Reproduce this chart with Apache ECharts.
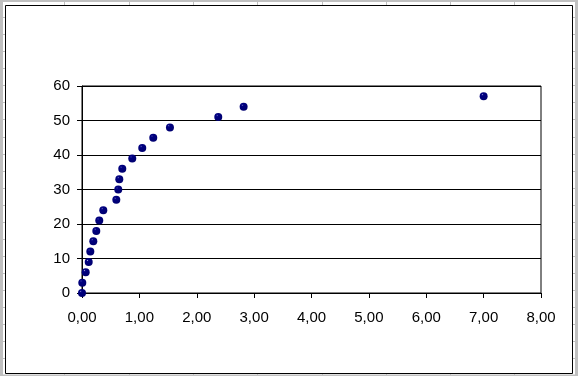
<!DOCTYPE html>
<html>
<head>
<meta charset="utf-8">
<script src="https://cdn.jsdelivr.net/npm/echarts@6/dist/echarts.min.js"></script>
<style>
html,body{margin:0;padding:0;background:#fff;}
#chart{width:578px;height:376px;}
</style>
</head>
<body>
<div id="chart"></div>
<script>
// Data
var xValues = [0, 0.005, 0.064, 0.117, 0.145, 0.197, 0.249, 0.301, 0.371, 0.598, 0.632, 0.650, 0.702, 0.876, 1.05, 1.242, 1.533, 2.375, 2.817, 7.0];
var yValues = [0, 3, 6, 9, 12, 15, 18, 21, 24, 27, 30, 33, 36, 39, 42, 45, 48, 51, 54, 57];
var xTicks = [0, 1, 2, 3, 4, 5, 6, 7, 8];
var yTicks = [0, 10, 20, 30, 40, 50, 60];

var points = xValues.map(function (x, i) { return [x, yValues[i]]; });

function fmtX(v) { return v.toFixed(2).replace('.', ','); }

// spreadsheet cell-grid fragments around the chart object
var gray = '#c0c0c0';
var graphics = [
  { type: 'rect', shape: { x: 0, y: 0, width: 578, height: 2 }, style: { fill: gray }, z: 0 },
  { type: 'rect', shape: { x: 0, y: 0, width: 3, height: 376 }, style: { fill: gray }, z: 0 },
  { type: 'rect', shape: { x: 575, y: 0, width: 3, height: 376 }, style: { fill: gray }, z: 0 },
  { type: 'rect', shape: { x: 0, y: 374.5, width: 578, height: 2 }, style: { fill: gray }, z: 0 }
];
for (var k = 1; k <= 21; k++) {
  var yy = Math.round(17.07 * k) + 0.5;
  graphics.push({ type: 'line', shape: { x1: 0, y1: yy, x2: 5, y2: yy }, style: { stroke: gray, lineWidth: 1 }, z: 0 });
  graphics.push({ type: 'line', shape: { x1: 573, y1: yy, x2: 578, y2: yy }, style: { stroke: gray, lineWidth: 1 }, z: 0 });
}
for (var c = 1; c <= 8; c++) {
  var xx = Math.round(64.3 * c) + 0.5;
  graphics.push({ type: 'line', shape: { x1: xx, y1: 0, x2: xx, y2: 5 }, style: { stroke: gray, lineWidth: 1 }, z: 0 });
  graphics.push({ type: 'line', shape: { x1: xx, y1: 373, x2: xx, y2: 376 }, style: { stroke: gray, lineWidth: 1 }, z: 0 });
}
graphics.push({ type: 'rect', shape: { x: 5.5, y: 5.5, width: 567, height: 368 }, style: { fill: '#ffffff', stroke: '#000000', lineWidth: 1 }, z: 1 });

var chart = echarts.init(document.getElementById('chart'), null, { renderer: 'canvas' });
chart.setOption({
  backgroundColor: '#ffffff',
  animation: false,
  graphic: { elements: graphics },
  grid: {
    left: 82, right: 37, top: 86, bottom: 83,
    show: true, borderColor: '#000000', borderWidth: 1, backgroundColor: 'transparent',
    z: 5
  },
  xAxis: {
    type: 'value', min: 0, max: 8, interval: 1,
    axisLine: { show: true, lineStyle: { color: '#000', width: 1 } },
    axisTick: { show: true, inside: false, length: 5, lineStyle: { color: '#000' } },
    splitLine: { show: false },
    axisLabel: {
      margin: 17, color: '#000', fontSize: 15, fontFamily: 'Liberation Sans, Arial, sans-serif',
      formatter: function (v) { return fmtX(v); }
    },
    z: 5
  },
  yAxis: {
    type: 'value', min: 0, max: 60, interval: 10,
    axisLine: { show: true, lineStyle: { color: '#000', width: 1 } },
    axisTick: { show: true, inside: false, length: 5, lineStyle: { color: '#000' } },
    splitLine: { show: true, lineStyle: { color: '#000', width: 1 } },
    axisLabel: {
      margin: 12, color: '#000', fontSize: 15, fontFamily: 'Liberation Sans, Arial, sans-serif'
    },
    z: 5
  },
  series: [{
    type: 'scatter',
    data: points,
    symbol: 'circle',
    symbolSize: 8,
    z: 10,
    itemStyle: {
      opacity: 1,
      color: {
        type: 'radial', x: 0.35, y: 0.3, r: 0.7,
        colorStops: [
          { offset: 0, color: '#d0d0ff' },
          { offset: 0.1, color: '#1a1a90' },
          { offset: 0.25, color: '#000080' },
          { offset: 1, color: '#000070' }
        ]
      },
      borderWidth: 0
    }
  }]
});
</script>
</body>
</html>
